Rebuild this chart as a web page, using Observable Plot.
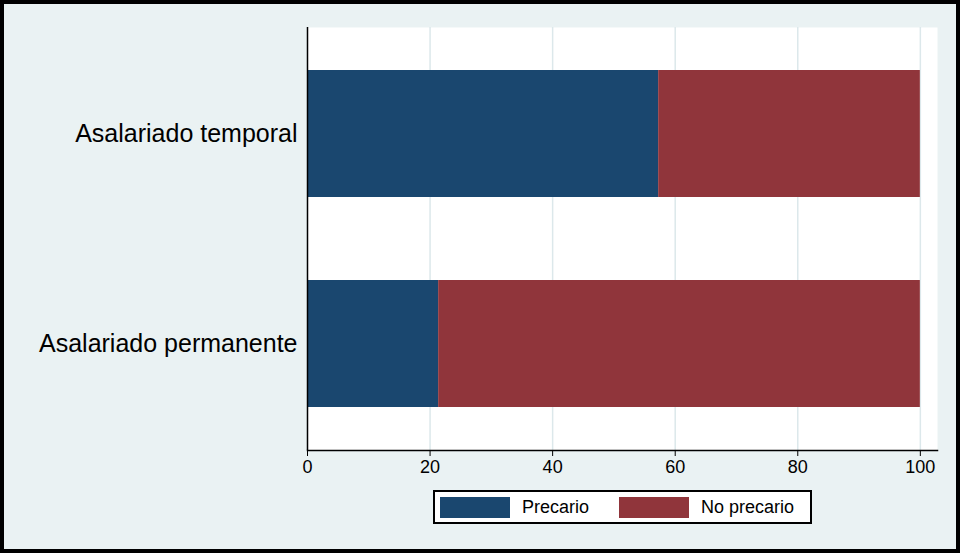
<!DOCTYPE html>
<html>
<head>
<meta charset="utf-8">
<script src="https://cdn.jsdelivr.net/npm/d3@7"></script>
<script src="https://cdn.jsdelivr.net/npm/@observablehq/plot@0.6"></script>
<style>
  html, body { margin: 0; padding: 0; background: #ffffff; }
  #wrap { position: relative; width: 960px; height: 553px; background: #eaf2f3; font-family: "Liberation Sans", Arial, sans-serif; overflow: hidden; }
  #border { position: absolute; left: 0; top: 0; width: 960px; height: 553px; box-sizing: border-box; border: 4px solid #000; pointer-events: none; }
  #legend { position: absolute; left: 433px; top: 490px; width: 379px; height: 34px; box-sizing: border-box; border: 2px solid #000; background: #fff; display: flex; align-items: center; font-size: 18px; color: #000; }
  .sw { width: 70px; height: 21px; display: inline-block; }
  svg { position: absolute; left: 0; top: 0; }
</style>
</head>
<body>
<div id="wrap">
  <div id="chart"></div>
  <div id="legend"></div>
  <div id="border"></div>
</div>
<script>
const categories = ["Asalariado temporal", "Asalariado permanente"];
const seriesNames = ["Precario", "No precario"];
const precario = [57.3, 21.4];
const noPrecario = [42.7, 78.6];
const xTicks = [0, 20, 40, 60, 80, 100];
const colors = ["#1a476f", "#90353b"];

const data = [];
categories.forEach((c, i) => {
  data.push({cat: c, serie: seriesNames[0], value: precario[i]});
  data.push({cat: c, serie: seriesNames[1], value: noPrecario[i]});
});

const chart = Plot.plot({
  width: 960,
  height: 553,
  marginLeft: 307,
  marginRight: 23,
  marginTop: 27,
  marginBottom: 103,
  style: {background: "transparent", fontFamily: "'Liberation Sans', Arial, sans-serif", color: "#000"},
  x: {domain: [0, 102.8], ticks: xTicks, label: null},
  y: {domain: categories, paddingInner: 0.395, paddingOuter: 0.2, label: null},
  color: {domain: seriesNames, range: colors},
  marks: [
    Plot.frame({fill: "#ffffff", stroke: null}),
    Plot.ruleX(xTicks.slice(1), {stroke: "#dce8eb", strokeWidth: 1.5}),
    Plot.barX(data, Plot.stackX({x: "value", y: "cat", fill: "serie", order: seriesNames})),
    Plot.ruleX([0], {stroke: "#000", strokeWidth: 1.5}),
    Plot.frame({anchor: "bottom", stroke: "#000", strokeWidth: 1.5}),
    Plot.axisX({ticks: xTicks, tickSize: 6, tickPadding: 4, fontSize: 18, stroke: "#000", label: null, tickFormat: d => String(d)}),
    Plot.axisY({tickSize: 0, tickPadding: 10, fontSize: 25, label: null})
  ]
});
document.getElementById("chart").appendChild(chart);

const legend = document.getElementById("legend");
seriesNames.forEach((s, i) => {
  const sw = document.createElement("span");
  sw.className = "sw";
  sw.style.background = colors[i];
  sw.style.marginLeft = i === 0 ? "5px" : "30px";
  legend.appendChild(sw);
  const t = document.createElement("span");
  t.textContent = s;
  t.style.marginLeft = "12px";
  legend.appendChild(t);
});
</script>
</body>
</html>
